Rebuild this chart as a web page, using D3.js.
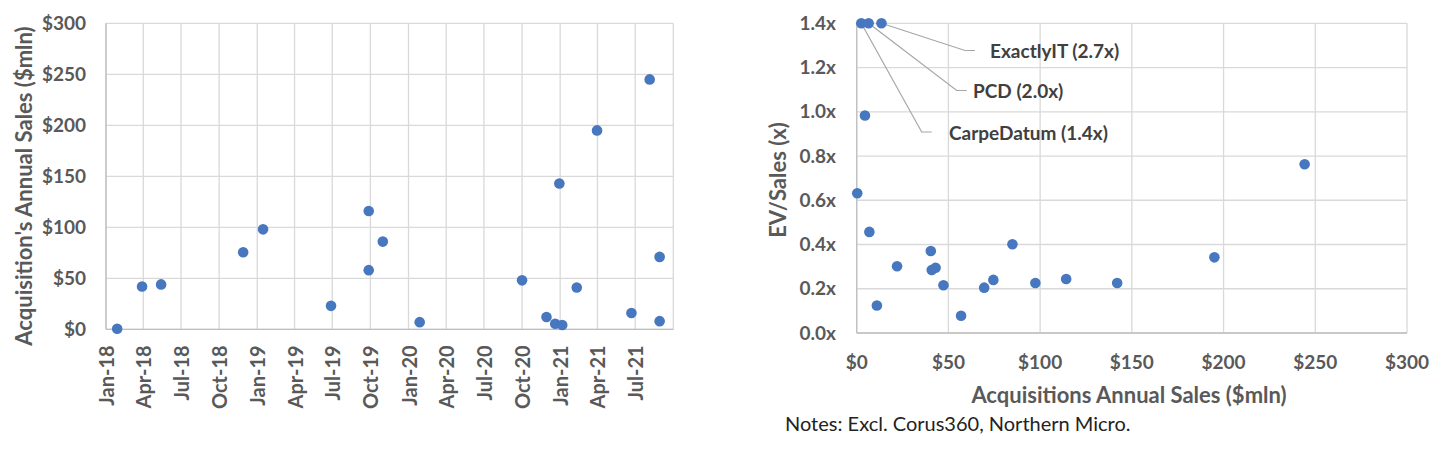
<!DOCTYPE html>
<html>
<head>
<meta charset="utf-8">
<script src="https://cdn.jsdelivr.net/npm/d3@7"></script>
<style>
  body { margin: 0; background: #fff; }
  text { font-family: Lato, "Open Sans", sans-serif; }
</style>
</head>
<body>
<div id="chart"></div>
<script>
// left chart: deal date vs acquired company's sales
const dealDates = ["2018-01-28", "2018-03-29", "2018-05-14", "2018-11-28", "2019-01-15",
  "2019-06-28", "2019-09-27", "2019-09-27", "2019-10-31", "2020-01-28", "2020-10-01",
  "2020-11-29", "2020-12-20", "2021-01-06", "2020-12-30", "2021-02-10", "2021-03-31",
  "2021-06-22", "2021-08-05", "2021-08-29", "2021-08-29"];
const dealSales = [0.5, 42, 44, 75.5, 98, 23, 116, 58, 86, 7, 48, 12, 5.5, 4.2, 143, 41, 195, 16, 245, 8, 71];

// right chart: sales vs EV/Sales (capped at 1.4x)
const multSales = [2.5, 6.5, 13.5, 4.5, 0.3, 6.9, 11, 22, 40.4, 40.9, 43, 47.3, 56.9,
  69.5, 74.5, 84.9, 97.4, 114.2, 142, 195, 244.2];
const multValues = [1.4, 1.4, 1.4, 0.983, 0.632, 0.457, 0.124, 0.302, 0.371, 0.285, 0.295,
  0.216, 0.078, 0.205, 0.24, 0.401, 0.226, 0.244, 0.226, 0.342, 0.763];

const callouts = [
  { name: "ExactlyIT (2.7x)", i: 2 },
  { name: "PCD (2.0x)", i: 1 },
  { name: "CarpeDatum (1.4x)", i: 0 }
];

const salesTicks = [0, 50, 100, 150, 200, 250, 300];
const multTicks = [0, 0.2, 0.4, 0.6, 0.8, 1.0, 1.2, 1.4];

const grey = "#595959", grid = "#d9d9d9", dot = "#4677bf";
const parse = d3.timeParse("%Y-%m-%d");

const svg = d3.select("#chart").append("svg")
  .attr("width", 1456).attr("height", 449);

// ---------- left ----------
const L = { left: 106, right: 673.3, top: 23.3, bottom: 329.3 };
const x1 = d3.scaleTime()
  .domain([new Date(2018, 0, 1), new Date(2021, 9, 1)])
  .range([L.left, L.right]);
const y1 = d3.scaleLinear().domain([0, 300]).range([L.bottom, L.top]);

const g1 = svg.append("g");
const months = d3.timeMonth.every(3).range(new Date(2018, 0, 1), new Date(2021, 9, 2));

g1.selectAll(".vg").data(months).enter().append("line")
  .attr("x1", d => x1(d)).attr("x2", d => x1(d))
  .attr("y1", L.top).attr("y2", L.bottom)
  .attr("stroke", grid).attr("stroke-width", 1.3);
g1.selectAll(".hg").data(salesTicks).enter().append("line")
  .attr("x1", L.left).attr("x2", L.right)
  .attr("y1", d => y1(d)).attr("y2", d => y1(d))
  .attr("stroke", grid).attr("stroke-width", 1.3);
g1.append("line").attr("x1", L.left).attr("x2", L.left).attr("y1", L.top).attr("y2", L.bottom)
  .attr("stroke", "#bfbfbf").attr("stroke-width", 1.3);
g1.append("line").attr("x1", L.left).attr("x2", L.right).attr("y1", L.bottom).attr("y2", L.bottom)
  .attr("stroke", "#bfbfbf").attr("stroke-width", 1.3);

g1.selectAll(".yl").data(salesTicks).enter().append("text")
  .attr("x", 86).attr("y", d => y1(d)).attr("dy", "0.35em")
  .attr("text-anchor", "end").attr("fill", grey)
  .attr("font-size", 19).attr("font-weight", "bold")
  .text(d => "$" + d);

const fmt = d3.timeFormat("%b-%y");
g1.selectAll(".xl").data(months.slice(0, -1)).enter().append("text")
  .attr("transform", d => `translate(${x1(d) + 1},${L.bottom + 16}) rotate(-90)`)
  .attr("dy", "0.35em").attr("text-anchor", "end").attr("fill", grey)
  .attr("font-size", 20).attr("font-weight", "bold")
  .text(d => fmt(d));

g1.append("text")
  .attr("transform", "translate(24,186) rotate(-90)")
  .attr("dy", "0.35em").attr("text-anchor", "middle").attr("fill", grey)
  .attr("font-size", 22).attr("font-weight", "bold")
  .text("Acquisition's Annual Sales ($mln)");

g1.selectAll("circle").data(dealDates).enter().append("circle")
  .attr("cx", d => x1(parse(d)))
  .attr("cy", (d, i) => y1(dealSales[i]))
  .attr("r", 5.3).attr("fill", dot);

// ---------- right ----------
const R = { left: 856.7, right: 1407, top: 23.3, bottom: 333 };
const x2 = d3.scaleLinear().domain([0, 300]).range([R.left, R.right]);
const y2 = d3.scaleLinear().domain([0, 1.4]).range([R.bottom, R.top]);

const g2 = svg.append("g");
g2.selectAll(".vg").data(salesTicks).enter().append("line")
  .attr("x1", d => x2(d)).attr("x2", d => x2(d))
  .attr("y1", R.top).attr("y2", R.bottom)
  .attr("stroke", grid).attr("stroke-width", 1.3);
g2.selectAll(".hg").data(multTicks).enter().append("line")
  .attr("x1", R.left).attr("x2", R.right)
  .attr("y1", d => y2(d)).attr("y2", d => y2(d))
  .attr("stroke", grid).attr("stroke-width", 1.3);
g2.append("line").attr("x1", R.left).attr("x2", R.left).attr("y1", R.top).attr("y2", R.bottom)
  .attr("stroke", "#bfbfbf").attr("stroke-width", 1.3);
g2.append("line").attr("x1", R.left).attr("x2", R.right).attr("y1", R.bottom).attr("y2", R.bottom)
  .attr("stroke", "#bfbfbf").attr("stroke-width", 1.3);

g2.selectAll(".yl").data(multTicks).enter().append("text")
  .attr("x", 836).attr("y", d => y2(d)).attr("dy", "0.35em")
  .attr("text-anchor", "end").attr("fill", grey)
  .attr("font-size", 19).attr("font-weight", "bold")
  .text(d => d.toFixed(1) + "x");

g2.selectAll(".xl").data(salesTicks).enter().append("text")
  .attr("x", d => x2(d)).attr("y", 362).attr("dy", "0.35em")
  .attr("text-anchor", "middle").attr("fill", grey)
  .attr("font-size", 19).attr("font-weight", "bold")
  .text(d => "$" + d);

g2.append("text")
  .attr("x", 1129).attr("y", 395).attr("dy", "0.35em")
  .attr("text-anchor", "middle").attr("fill", grey)
  .attr("font-size", 22).attr("font-weight", "bold")
  .text("Acquisitions Annual Sales ($mln)");

g2.append("text")
  .attr("transform", "translate(778,180) rotate(-90)")
  .attr("dy", "0.35em").attr("text-anchor", "middle").attr("fill", grey)
  .attr("font-size", 22).attr("font-weight", "bold")
  .text("EV/Sales (x)");

g2.append("text")
  .attr("x", 785).attr("y", 424).attr("dy", "0.35em")
  .attr("fill", "#222").attr("font-size", 20)
  .text("Notes: Excl. Corus360, Northern Micro.");

// callout leader lines and labels
const labelPos = [
  { x: 975, y: 50.5, tx: 990 },
  { x: 966.7, y: 90.5, tx: 973 },
  { x: 931.7, y: 132, tx: 949 }
];
callouts.forEach((c, k) => {
  const p = labelPos[k];
  const px = x2(multSales[c.i]), py = y2(multValues[c.i]);
  g2.append("polyline")
    .attr("points", `${px},${py} ${p.x - 10},${p.y} ${p.x},${p.y}`)
    .attr("fill", "none").attr("stroke", "#a6a6a6").attr("stroke-width", 1.2);
  g2.append("text")
    .attr("x", p.tx).attr("y", p.y + 1).attr("dy", "0.35em")
    .attr("fill", "#404040").attr("font-size", 19).attr("font-weight", "bold")
    .text(c.name);
});

g2.selectAll("circle").data(multSales).enter().append("circle")
  .attr("cx", d => x2(d))
  .attr("cy", (d, i) => y2(multValues[i]))
  .attr("r", 5.3).attr("fill", dot);
</script>
</body>
</html>
